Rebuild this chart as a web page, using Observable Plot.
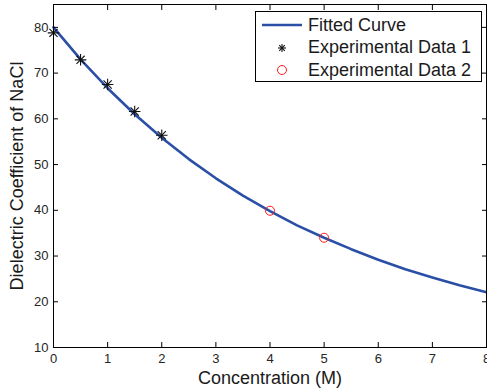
<!DOCTYPE html>
<html>
<head>
<meta charset="utf-8">
<script src="https://cdn.jsdelivr.net/npm/d3@7"></script>
<script src="https://cdn.jsdelivr.net/npm/@observablehq/plot@0.6"></script>
<style>
  html, body { margin: 0; padding: 0; background: #fff; }
  #wrap { position: relative; width: 487px; height: 389px; font-family: "Liberation Sans", Arial, sans-serif; }
  #legend { position: absolute; left: 255px; top: 11px; width: 225px; height: 69px; border: 1px solid #000; background: #fff; }
  .row { position: absolute; left: 0; height: 22px; display: flex; align-items: center; font-size: 18px; color: #1a1a1a; white-space: nowrap; }
  .row svg { margin-left: 6px; margin-right: 6px; }
</style>
</head>
<body>
<div id="wrap"></div>
<script>
// Fitted curve (at 0.5 M steps)
const curveX = [0, 0.5, 1, 1.5, 2, 2.5, 3, 3.5, 4, 4.5, 5, 5.5, 6, 6.5, 7, 7.5, 8];
const curveY = [80.0, 73.0, 66.7, 61.0, 55.85, 51.2, 47.0, 43.2, 39.8, 36.7, 34.0, 31.5, 29.2, 27.1, 25.3, 23.6, 22.1];
// Experimental data 1
const exp1X = [0, 0.5, 1, 1.5, 2];
const exp1Y = [78.8, 72.9, 67.5, 61.6, 56.4];
// Experimental data 2
const exp2X = [4, 5];
const exp2Y = [39.9, 34.0];
const xTicks = [0, 1, 2, 3, 4, 5, 6, 7, 8];
const yTicks = [10, 20, 30, 40, 50, 60, 70, 80];
const labels = ["Fitted Curve", "Experimental Data 1", "Experimental Data 2"];

const curve = curveX.map((x, i) => ({x, y: curveY[i]}));
const d1 = exp1X.map((x, i) => ({x, y: exp1Y[i]}));
const d2 = exp2X.map((x, i) => ({x, y: exp2Y[i]}));

const blue = "#2b4fa6";

const chart = Plot.plot({
  width: 487,
  height: 389,
  marginLeft: 53,
  marginRight: 1,
  marginTop: 4,
  marginBottom: 42,
  style: {fontFamily: "Liberation Sans, Arial, sans-serif", background: "#fff"},
  x: {domain: [0, 8]},
  y: {domain: [10, 85]},
  marks: [
    Plot.line(curve, {x: "x", y: "y", stroke: blue, strokeWidth: 2.6}),
    Plot.dot(d1, {x: "x", y: "y", symbol: "plus", r: 3.8, stroke: "#111", strokeWidth: 1.1}),
    Plot.dot(d1, {x: "x", y: "y", symbol: "times", r: 3.8, stroke: "#111", strokeWidth: 1.1}),
    Plot.dot(d2, {x: "x", y: "y", r: 4.5, stroke: "#ff1a1a", strokeWidth: 1, fill: "none"}),
    Plot.axisX({ticks: xTicks, tickSize: -5, tickPadding: 11, fontSize: 13, label: null, color: "#262626", stroke: "#000"}),
    Plot.axisX({ticks: xTicks, anchor: "top", tickSize: -5, tickFormat: () => "", label: null, stroke: "#000"}),
    Plot.axisY({ticks: yTicks, tickSize: -5, tickPadding: 10, fontSize: 13, label: null, color: "#262626", stroke: "#000"}),
    Plot.axisY({ticks: yTicks, anchor: "right", tickSize: -5, tickFormat: () => "", label: null, stroke: "#000"}),
    Plot.frame({stroke: "#000", strokeWidth: 1}),
    Plot.text(["Concentration (M)"], {frameAnchor: "bottom", dy: 36, lineAnchor: "bottom", textAnchor: "middle", fontSize: 18, fill: "#1a1a1a"}),
    Plot.text(["Dielectric Coefficient of NaCl"], {frameAnchor: "left", dx: -36, rotate: -90, textAnchor: "middle", lineAnchor: "middle", fontSize: 18, fill: "#1a1a1a"})
  ]
});

const wrap = document.getElementById("wrap");
wrap.appendChild(chart);

const legend = document.createElement("div");
legend.id = "legend";
const icons = [
  `<svg width="40" height="12"><line x1="0" y1="6" x2="40" y2="6" stroke="${blue}" stroke-width="2.6"/></svg>`,
  `<svg width="40" height="12"><g stroke="#111" stroke-width="1.1"><line x1="16" y1="6" x2="24" y2="6"/><line x1="20" y1="2" x2="20" y2="10"/><line x1="17.2" y1="3.2" x2="22.8" y2="8.8"/><line x1="17.2" y1="8.8" x2="22.8" y2="3.2"/></g></svg>`,
  `<svg width="40" height="12"><circle cx="20" cy="6" r="4.5" stroke="#ff1a1a" fill="none" stroke-width="1"/></svg>`
];
labels.forEach((t, i) => {
  const row = document.createElement("div");
  row.className = "row";
  row.style.top = (2 + i * 22.5) + "px";
  row.innerHTML = icons[i] + `<span>${t}</span>`;
  legend.appendChild(row);
});
wrap.appendChild(legend);
</script>
</body>
</html>
